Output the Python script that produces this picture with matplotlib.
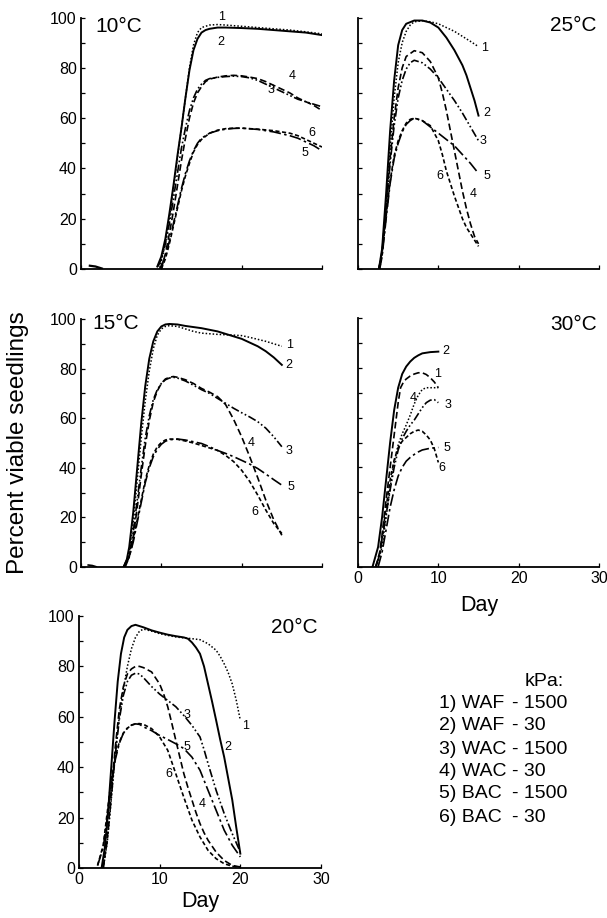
import matplotlib
matplotlib.use("Agg")
import matplotlib.pyplot as plt
from matplotlib.ticker import MultipleLocator

plt.rcParams['font.family'] = ['Liberation Sans', 'DejaVu Sans']

# ---------------- data: 10 C ----------------
t10_1 = [9.8, 10, 10.5, 11, 11.5, 12, 12.5, 13, 13.5, 14, 14.5, 15, 15.5, 16, 17, 18, 20, 22, 24, 26, 28, 30]
v10_1 = [0.5, 3, 10, 20, 32, 44, 56, 68, 80, 89, 94, 96, 96.5, 97, 97.2, 97, 96.5, 96, 95.5, 95, 94.3, 93.5]
t10_2 = [9.5, 10, 10.5, 11, 11.5, 12, 12.5, 13, 13.5, 14, 14.5, 15, 15.5, 16, 17, 18, 20, 22, 24, 26, 28, 30]
v10_2 = [1, 5, 12, 22, 33, 45, 56, 68, 79, 87, 91.5, 94, 95, 95.5, 96, 96, 95.8, 95.5, 95, 94.5, 94, 93]
t10_3 = [9.6, 10, 10.5, 11, 11.5, 12, 12.5, 13, 13.5, 14, 14.5, 15, 15.5, 16, 17, 18, 19, 20, 21, 22, 23, 24, 25, 26, 27, 28, 29, 30]
v10_3 = [1, 4, 10, 18, 28, 38, 48, 56, 63, 68, 71.5, 73.5, 75, 75.7, 76.2, 76.5, 76.7, 76.5, 76, 75, 73.5, 72, 70.5, 69, 67.5, 66.5, 65.5, 64.5]
t10_4 = [10, 10.5, 11, 11.5, 12, 12.5, 13, 13.5, 14, 14.5, 15, 15.5, 16, 17, 18, 19, 20, 21, 22, 23, 24, 25, 26, 27, 28, 29, 30]
v10_4 = [0, 6, 14, 23, 33, 43, 52, 60, 66, 70, 72.5, 74.5, 75.5, 76.3, 76.8, 77, 76.8, 76.3, 75.7, 74.5, 73, 71.5, 70, 68, 66.5, 65, 63]
t10_5 = [9.8, 10.5, 11, 11.5, 12, 12.5, 13, 13.5, 14, 14.5, 15, 16, 17, 18, 19, 20, 22, 24, 26, 27, 28, 29, 30]
v10_5 = [0, 5, 11, 18, 25, 32, 38, 43, 47, 50, 52, 54, 55, 55.6, 55.9, 56, 55.5, 54.5, 53, 52, 50.5, 49, 47]
t10_6 = [10, 10.5, 11, 11.5, 12, 12.5, 13, 13.5, 14, 14.5, 15, 16, 17, 18, 19, 20, 22, 24, 26, 27, 28, 29, 30]
v10_6 = [0, 4, 10, 17, 24, 31, 37, 42, 46.5, 49.5, 51.5, 54, 55.2, 55.8, 56, 56, 55.6, 55, 54, 53, 51.5, 50, 48.5]
t10_0 = [1.1, 1.8, 2.6]
v10_0 = [1.3, 1.0, 0.2]

# ---------------- data: 25 C ----------------
t25_1 = [2.7, 3, 3.5, 4, 4.5, 5, 5.5, 6, 6.5, 7, 8, 9, 10, 11, 12, 13, 14, 15]
v25_1 = [0, 6, 26, 48, 68, 82, 90, 94.5, 97, 98.3, 98.7, 98.3, 97.5, 96, 94.5, 92.5, 90.5, 88.4]
t25_2 = [2.6, 3, 3.5, 4, 4.5, 5, 5.5, 6, 7, 8, 9, 10, 11, 12, 13, 13.5, 14, 14.5, 15]
v25_2 = [0, 8, 30, 55, 75, 89, 95, 97.5, 98.8, 98.8, 98, 96, 92, 87, 81, 77, 72, 67, 61]
t25_3 = [2.6, 3, 3.5, 4, 4.5, 5, 5.5, 6, 6.5, 7, 8, 9, 10, 11, 12, 13, 14, 15]
v25_3 = [0, 6, 24, 42, 57, 68, 75, 79.5, 82, 83, 82, 79.5, 76, 71.5, 67, 62, 56.5, 51]
t25_4 = [2.6, 3, 3.5, 4, 4.5, 5, 5.5, 6, 7, 8, 9, 10, 10.5, 11, 11.5, 12, 12.5, 13, 13.5, 14, 14.5, 15]
v25_4 = [0, 7, 25, 44, 60, 72, 80, 84.5, 86.8, 86, 82.5, 76, 70, 63, 55, 47, 39, 31, 24, 18, 13, 10]
t25_5 = [2.7, 3, 3.5, 4, 4.5, 5, 5.5, 6, 6.5, 7, 8, 9, 10, 11, 12, 13, 14, 15]
v25_5 = [0, 5, 20, 34, 44, 50, 54.5, 57.5, 59, 60, 59, 56.5, 54, 51.5, 49, 45.5, 42, 38]
t25_6 = [2.6, 3, 3.5, 4, 4.5, 5, 5.5, 6, 6.5, 7, 8, 9, 10, 10.5, 11, 11.5, 12, 12.5, 13, 13.5, 14, 14.5, 15]
v25_6 = [0, 6, 21, 35, 45, 51, 55, 58, 59.5, 60, 59, 57, 51, 45.5, 39, 34, 29, 24.5, 20, 16.5, 14, 11.5, 9]

# ---------------- data: 15 C ----------------
t15_1 = [5.4, 6, 6.5, 7, 7.5, 8, 8.5, 9, 9.5, 10, 10.5, 11, 12, 13, 14, 15, 17, 19, 20, 21, 22, 23, 24, 25]
v15_1 = [0, 6, 18, 35, 52, 67, 79, 88, 93.5, 96, 97, 97.3, 97, 96, 95, 94.3, 93.8, 93.5, 93.3, 92.6, 91.8, 91, 90, 89]
t15_2 = [5.3, 5.7, 6, 6.5, 7, 7.5, 8, 8.5, 9, 9.5, 10, 10.5, 11, 12, 13, 15, 17, 19, 20, 21, 22, 23, 24, 25]
v15_2 = [0, 3, 8, 22, 40, 58, 73, 84, 91, 95, 97, 97.8, 98, 97.8, 97.2, 96.3, 95, 93, 92, 90.5, 89, 87, 84.5, 81.5]
t15_3 = [5.3, 6, 6.5, 7, 7.5, 8, 8.5, 9, 9.5, 10, 10.5, 11, 11.5, 12, 13, 14, 15, 16, 17, 18, 19, 20, 21, 22, 23, 24, 25]
v15_3 = [0, 5, 14, 27, 40, 52, 61, 67.5, 71.5, 74, 75.5, 76.2, 76.5, 76.2, 75, 73.3, 71.5, 70, 68, 66, 64, 62.2, 60.5, 58.6, 56, 52.5, 48.5]
t15_4 = [5.5, 6, 6.5, 7, 7.5, 8, 8.5, 9, 9.5, 10, 10.5, 11, 11.5, 12, 13, 14, 15, 16, 17, 18, 19, 20, 21, 22, 23, 24, 25]
v15_4 = [0, 4, 12, 24, 37, 49, 59, 66.5, 71, 74, 75.8, 76.5, 76.8, 76.5, 75.5, 74, 72, 70.5, 68.7, 65.5, 59.5, 52.5, 44.5, 36, 27, 19, 12.8]
t15_5 = [5.3, 6, 6.5, 7, 7.5, 8, 8.5, 9, 9.5, 10, 10.5, 11, 12, 13, 14, 15, 16, 17, 18, 19, 20, 21, 22, 23, 24, 25]
v15_5 = [0, 4, 10, 18, 26, 34, 40, 44.5, 47.5, 49.5, 50.7, 51.3, 51.6, 51.2, 50.5, 49.8, 48.5, 47, 45.8, 44.5, 43, 41.5, 39.7, 37.5, 35.2, 33]
t15_6 = [5.4, 6, 6.5, 7, 7.5, 8, 8.5, 9, 9.5, 10, 10.5, 11, 12, 13, 14, 15, 16, 17, 18, 19, 20, 21, 22, 23, 24, 25]
v15_6 = [0, 4, 11, 19, 27, 35, 41, 45.5, 48.5, 50.2, 51.2, 51.6, 51.5, 50.8, 50, 49, 48, 47, 45, 42.5, 39, 34.5, 29, 23, 17.5, 13.5]
t15_0 = [0.9, 1.4, 1.9]
v15_0 = [0.8, 0.6, 0.1]

# ---------------- data: 30 C ----------------
t30_1 = [2.3, 3, 3.5, 4, 4.5, 5, 5.5, 6, 6.5, 7, 7.5, 8, 8.5, 9, 10]
v30_1 = [0, 8, 20, 32, 42, 49, 53.5, 57, 61, 65.5, 69, 71.3, 72, 72, 72]
t30_2 = [1.8, 2.5, 3, 3.5, 4, 4.5, 5, 5.5, 6, 6.5, 7, 7.5, 8, 9, 10]
v30_2 = [0, 8, 20, 35, 50, 63, 72, 77.5, 80.5, 82.5, 84, 85, 85.8, 86.3, 86.5]
t30_3 = [2.2, 2.7, 3, 3.5, 4, 4.5, 5, 5.5, 6, 6.5, 7, 7.5, 8, 8.5, 9, 9.5, 10]
v30_3 = [0, 5, 11, 21, 31, 40, 47, 51.5, 54.5, 57, 59, 61.5, 64, 66, 67, 67.2, 66]
t30_4 = [2.2, 2.7, 3, 3.5, 4, 4.5, 5, 5.3, 5.7, 6, 6.5, 7, 7.5, 8, 8.5, 9, 9.5, 10]
v30_4 = [0, 6, 13, 27, 40, 53, 66, 72, 74.5, 75.5, 76.7, 77.5, 78, 78, 77.3, 76, 74.3, 72]
t30_5 = [2.5, 3, 3.5, 4, 4.5, 5, 5.5, 6, 6.5, 7, 7.5, 8, 9, 10]
v30_5 = [0, 6, 15, 24, 31, 36.5, 40, 42.5, 44, 45.2, 46.2, 47, 47.7, 48]
t30_6 = [2.2, 2.7, 3, 3.5, 4, 4.5, 5, 5.5, 6, 6.5, 7, 7.5, 8, 8.5, 9, 9.5, 10]
v30_6 = [0, 5, 12, 24, 35, 43, 48, 50.5, 52, 53.5, 54.5, 55, 54.5, 53, 51, 47.5, 42]

# ---------------- data: 20 C ----------------
t20_1 = [3.0, 3.5, 4, 4.5, 5, 5.5, 6, 6.5, 7, 7.5, 8, 9, 10, 11, 12, 13, 14, 15, 16, 17, 17.5, 18, 18.5, 19, 19.5, 20]
v20_1 = [0, 10, 27, 46, 60, 71, 80, 87, 91.5, 94, 94.8, 94, 93, 92.3, 91.7, 91.3, 91, 90.6, 89, 86.4, 84, 81, 77.5, 73, 66.5, 58.6]
t20_2 = [2.8, 3.2, 3.6, 4, 4.4, 4.8, 5.2, 5.6, 6, 6.5, 7, 8, 9, 10, 11, 12, 13, 13.5, 14, 14.5, 15, 15.5, 16, 16.5, 17, 17.5, 18, 18.5, 19, 19.5, 20]
v20_2 = [0, 8, 22, 40, 58, 74, 85, 91.5, 94.5, 96, 96.5, 95.5, 94.3, 93.4, 92.6, 92, 91.5, 91, 89.5, 87.5, 85, 80, 73, 66, 58.6, 51, 44, 35.5, 27, 16, 5.7]
t20_3 = [3.0, 3.5, 4, 4.5, 5, 5.5, 6, 6.5, 7, 7.5, 8, 9, 10, 11, 12, 13, 14, 15, 15.5, 16, 17, 18, 19, 20]
v20_3 = [0, 11, 28, 45, 59, 68.5, 74, 76.5, 77.3, 77, 75.5, 72, 69, 66.5, 64, 60.5, 56.6, 52, 47, 41.4, 30.8, 21.6, 13.6, 6.3]
t20_4 = [3.0, 3.5, 4, 4.5, 5, 5.5, 6, 6.5, 7, 7.5, 8, 9, 10, 10.5, 11, 11.5, 12, 12.5, 13, 13.5, 14, 14.5, 15, 15.5, 16, 17, 18, 19, 20]
v20_4 = [0, 12, 30, 48, 63, 72, 77, 79, 80, 80, 79.5, 77.8, 73, 69, 64, 57.5, 50.7, 44, 37.4, 32, 27, 22, 17.6, 14, 11, 6.3, 3, 1, 0.4]
t20_5 = [2.3, 3, 3.5, 4, 4.5, 5, 5.5, 6, 6.5, 7, 7.5, 8, 9, 10, 11, 12, 13, 14, 15, 16, 17, 18, 19, 20]
v20_5 = [1, 8, 20, 33, 43, 49.5, 53.5, 55.5, 56.7, 57.2, 57, 56, 54.5, 52.6, 51, 49.3, 47.4, 44, 38.8, 30.8, 22.9, 15, 9, 4.4]
t20_6 = [2.3, 3, 3.5, 4, 4.5, 5, 5.5, 6, 6.5, 7, 7.5, 8, 9, 10, 11, 12, 13, 14, 15, 16, 17, 18, 19, 20]
v20_6 = [1, 9, 22, 35, 44, 50, 53.5, 55.5, 56.7, 57.2, 57.3, 57, 55.3, 52, 46.7, 37.4, 28, 19, 12.3, 7, 3.7, 1.7, 0.7, 0.3]

legend_left = ["1) WAF", "2) WAF", "3) WAC", "4) WAC", "5) BAC", "6) BAC"]
legend_right = ["- 1500", "- 30", "- 1500", "- 30", "- 1500", "- 30"]

# line styles for series 1..6
styles = {
    1: dict(ls=(0, (1, 1.3)), lw=1.1),
    2: dict(ls='-', lw=1.4),
    3: dict(ls=(0, (5, 1.5, 1, 1.5, 1, 1.5)), lw=1.2),
    4: dict(ls=(0, (4, 2)), lw=1.2),
    5: dict(ls=(0, (7, 2, 1.5, 2)), lw=1.2),
    6: dict(ls=(0, (2.5, 1.5)), lw=1.2),
}

W, H = 607, 918
fig = plt.figure(figsize=(W / 100, H / 100), dpi=100)


def add_ax(x0, x1, ytop, ybot):
    return fig.add_axes([x0 / W, 1 - ybot / H, (x1 - x0) / W, (ybot - ytop) / H])


def style_ax(ax, xlabels, ylabels):
    ax.set_xlim(0, 30)
    ax.set_ylim(0, 100)
    for s in ['top', 'right']:
        ax.spines[s].set_visible(False)
    for s in ['left', 'bottom']:
        ax.spines[s].set_linewidth(1.3)
    ax.set_xticks([0, 10, 20, 30])
    ax.yaxis.set_major_locator(MultipleLocator(20))
    ax.yaxis.set_minor_locator(MultipleLocator(10))
    ax.tick_params(axis='both', which='both', direction='in', length=3, width=0.9,
                   labelsize=11.5, pad=3)
    if not xlabels:
        ax.tick_params(axis='x', labelbottom=False)
    if not ylabels:
        ax.tick_params(axis='y', labelleft=False)


def draw(ax, series, labels):
    for k, (t, v) in enumerate(series, start=1):
        ax.plot(t, v, color='black', dash_capstyle='butt', **styles[k])
    for txt, (x, y) in labels.items():
        ax.text(x, y, txt, fontsize=9, ha='center', va='center')


ax10 = add_ax(81, 322, 17.5, 269)
style_ax(ax10, False, True)
draw(ax10, [(t10_1, v10_1), (t10_2, v10_2), (t10_3, v10_3), (t10_4, v10_4), (t10_5, v10_5), (t10_6, v10_6)],
     {'1': (17.5, 100.3), '2': (17.4, 90.3), '4': (26.3, 76.7), '3': (23.7, 71.2), '6': (28.7, 54), '5': (27.9, 46)})
ax10.plot(t10_0, v10_0, color='black', lw=1.6)
ax10.text(0.058, 0.965, '10°C', transform=ax10.transAxes, fontsize=15, ha='left', va='center')

ax25 = add_ax(358, 599, 17.5, 269)
style_ax(ax25, False, False)
draw(ax25, [(t25_1, v25_1), (t25_2, v25_2), (t25_3, v25_3), (t25_4, v25_4), (t25_5, v25_5), (t25_6, v25_6)],
     {'1': (15.8, 87.7), '2': (16.0, 62.2), '3': (15.6, 50.7), '5': (16.1, 37), '6': (10.2, 36.8), '4': (14.4, 29.8)})
ax25.text(0.99, 0.968, '25°C', transform=ax25.transAxes, fontsize=15, ha='right', va='center')

ax15 = add_ax(81, 322, 319, 567)
style_ax(ax15, False, True)
draw(ax15, [(t15_1, v15_1), (t15_2, v15_2), (t15_3, v15_3), (t15_4, v15_4), (t15_5, v15_5), (t15_6, v15_6)],
     {'1': (25.9, 89.6), '2': (25.9, 81.5), '3': (25.9, 46.8), '4': (21.2, 49.9), '5': (26.1, 32.3), '6': (21.6, 22.2)})
ax15.plot(t15_0, v15_0, color='black', lw=1.2)
ax15.text(0.046, 0.982, '15°C', transform=ax15.transAxes, fontsize=15, ha='left', va='center')

ax30 = add_ax(358, 599, 318, 567)
style_ax(ax30, True, False)
draw(ax30, [(t30_1, v30_1), (t30_2, v30_2), (t30_3, v30_3), (t30_4, v30_4), (t30_5, v30_5), (t30_6, v30_6)],
     {'2': (10.9, 86.8), '1': (9.9, 77.6), '4': (6.9, 67.8), '3': (11.2, 65.1), '5': (11.1, 47.7), '6': (10.4, 39.6)})
ax30.text(0.99, 0.972, '30°C', transform=ax30.transAxes, fontsize=15, ha='right', va='center')

ax20 = add_ax(79, 321, 616, 868)
style_ax(ax20, True, True)
draw(ax20, [(t20_1, v20_1), (t20_2, v20_2), (t20_3, v20_3), (t20_4, v20_4), (t20_5, v20_5), (t20_6, v20_6)],
     {'1': (20.6, 56.3), '2': (18.5, 48), '3': (13.4, 60.6), '5': (13.4, 48), '6': (11.1, 37.2), '4': (15.3, 25.3)})
ax20.text(0.988, 0.956, '20°C', transform=ax20.transAxes, fontsize=15, ha='right', va='center')

# axis titles
fig.text(18 / W, 1 - 443 / H, 'Percent viable seedlings', rotation=90, fontsize=17.5, ha='center', va='center')
fig.text(479 / W, 1 - 605 / H, 'Day', fontsize=15.5, ha='center', va='center')
fig.text(200 / W, 1 - 901 / H, 'Day', fontsize=15.5, ha='center', va='center')

# key
fig.text(525 / W, 1 - 682 / H, 'kPa:', fontsize=14, ha='left', va='center')
ys = [704, 726, 749, 772, 794, 817]
for i, (a, b) in enumerate(zip(legend_left, legend_right)):
    fig.text(439 / W, 1 - ys[i] / H, a, fontsize=14, ha='left', va='center')
    fig.text(512 / W, 1 - ys[i] / H, b, fontsize=14, ha='left', va='center')

fig.savefig('out.png', dpi=100)
